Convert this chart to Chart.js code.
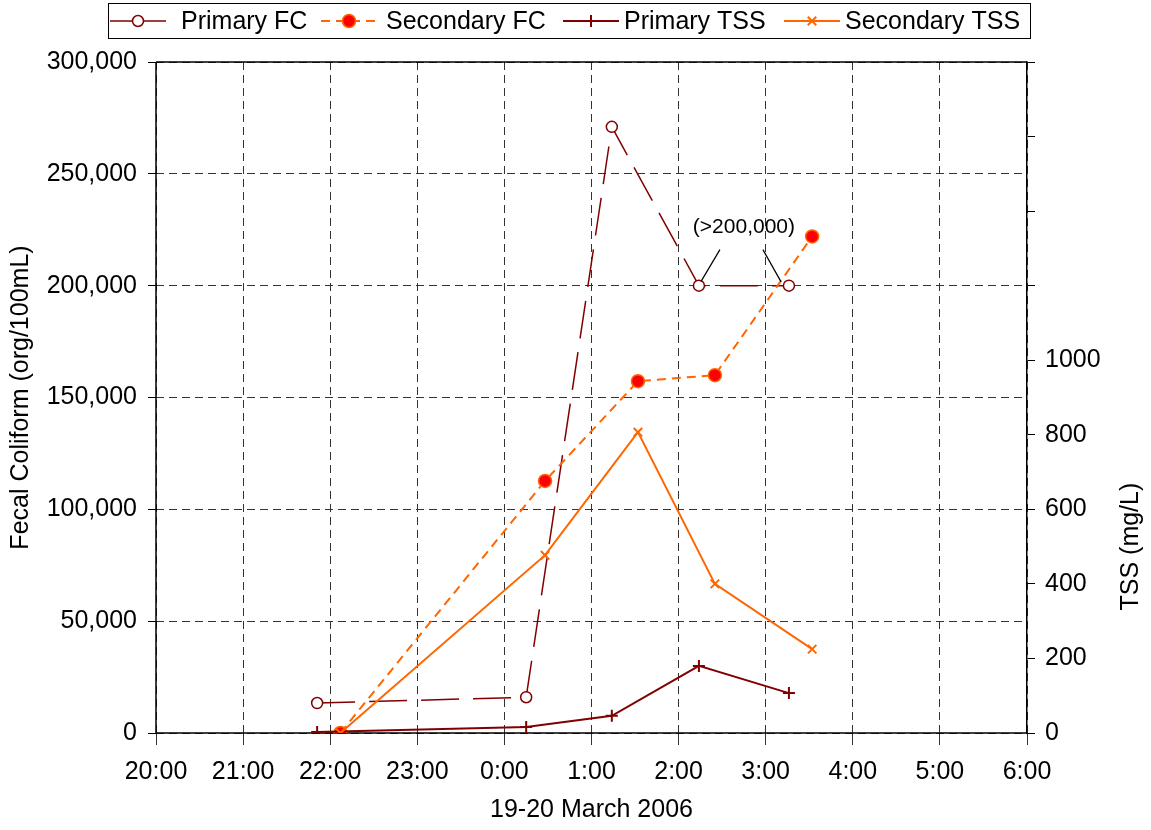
<!DOCTYPE html>
<html>
<head>
<meta charset="utf-8">
<script src="https://cdn.jsdelivr.net/npm/chart.js@4.4.0/dist/chart.umd.min.js"></script>
<style>
  body { margin: 0; background: #fff; }
  #wrap { width: 1151px; height: 830px; }
</style>
</head>
<body>
<div id="wrap"><canvas id="chart1"></canvas></div>
<script>
// sample times (clock) and values
const primaryTimes = ["21:51", "0:15", "1:14", "2:14", "3:16"];
const secondaryTimes = ["22:07", "0:28", "1:32", "2:25", "3:32"];
const primaryFC = [13400, 16000, 271000, 200000, 200000];
const secondaryFC = [0, 112700, 157300, 160000, 222000];
const primaryTSS = [3, 16, 46, 180, 107];
const secondaryTSS = [0, 477, 807, 400, 225];

const xMinHour = 20;
const xMaxHour = 30;

const FONT = "'Liberation Sans', Arial, sans-serif";

// clock string -> hours on a 20:00..30:00 axis
function toHours(t) {
  let parts = t.split(":");
  let h = parseInt(parts[0]) + parseInt(parts[1]) / 60;
  if (h < 12) h = h + 24;
  return h;
}

function points(times, values) {
  let out = [];
  times.forEach((t, i) => {
    out.push({ x: toHours(t), y: values[i] });
  });
  return out;
}

const darkRed = "#800000";
const orange = "#FF6600";

const datasets = [
  {
    label: "Primary FC",
    data: points(primaryTimes, primaryFC),
    yAxisID: "y",
    borderColor: darkRed,
    borderWidth: 1.5,
    borderDash: [38, 14],
    pointStyle: "circle",
    pointRadius: 5.5,
    pointBorderWidth: 1.5,
    pointBorderColor: darkRed,
    pointBackgroundColor: "#fff",
    order: 4,
  },
  {
    label: "Secondary FC",
    data: points(secondaryTimes, secondaryFC),
    yAxisID: "y",
    borderColor: orange,
    borderWidth: 2,
    borderDash: [9, 6],
    pointStyle: "circle",
    pointRadius: 6.5,
    pointBorderWidth: 1.5,
    pointBorderColor: orange,
    pointBackgroundColor: "#FF0000",
    order: 3,
  },
  {
    label: "Primary TSS",
    data: points(primaryTimes, primaryTSS),
    yAxisID: "y2",
    borderColor: darkRed,
    borderWidth: 2,
    pointStyle: "cross",
    pointRadius: 6,
    pointBorderWidth: 2,
    pointBorderColor: darkRed,
    order: 2,
  },
  {
    label: "Secondary TSS",
    data: points(secondaryTimes, secondaryTSS),
    yAxisID: "y2",
    borderColor: orange,
    borderWidth: 2,
    pointStyle: "crossRot",
    pointRadius: 6,
    pointBorderWidth: 2,
    pointBorderColor: orange,
    order: 1,
  },
];

// legend drawn by hand: line sample + marker, inside a black box
const legendPlugin = {
  id: "boxLegend",
  afterDraw(chart) {
    const ctx = chart.ctx;
    const sampleX = [138, 349, 591, 812];
    const textX = [181, 386, 624, 845];
    const cy = 21;
    ctx.save();
    ctx.strokeStyle = "#000";
    ctx.lineWidth = 1;
    ctx.strokeRect(108.5, 3.5, 922, 35);
    ctx.font = "25px " + FONT;
    ctx.textBaseline = "middle";
    ctx.fillStyle = "#000";
    chart.data.datasets.forEach((ds, i) => {
      ctx.save();
      ctx.strokeStyle = ds.borderColor;
      ctx.lineWidth = ds.borderWidth;
      ctx.setLineDash(i === 0 ? [] : (ds.borderDash || []));
      ctx.beginPath();
      ctx.moveTo(sampleX[i] - 28, cy);
      ctx.lineTo(sampleX[i] + 28, cy);
      ctx.stroke();
      ctx.setLineDash([]);
      ctx.lineWidth = ds.pointBorderWidth;
      ctx.strokeStyle = ds.pointBorderColor;
      ctx.fillStyle = ds.pointBackgroundColor || "#fff";
      Chart.helpers.drawPoint(ctx, {
        pointStyle: ds.pointStyle,
        radius: ds.pointRadius,
        rotation: 0,
        borderWidth: ds.pointBorderWidth,
      }, sampleX[i], cy);
      ctx.restore();
      ctx.fillText(ds.label, textX[i], cy + 1);
    });
    ctx.restore();
  },
};

// solid frame lines, right axis title and the ">200,000" note
const extrasPlugin = {
  id: "extras",
  beforeDatasetsDraw(chart) {
    const ctx = chart.ctx;
    const a = chart.chartArea;
    ctx.save();
    ctx.strokeStyle = "#000";
    ctx.lineWidth = 1.5;
    ctx.beginPath();
    ctx.moveTo(a.left, a.top);
    ctx.lineTo(a.right, a.top);
    ctx.moveTo(a.left, a.top);
    ctx.lineTo(a.left, a.bottom);
    ctx.lineTo(a.right, a.bottom);
    ctx.stroke();
    ctx.restore();
  },
  afterDatasetsDraw(chart) {
    const ctx = chart.ctx;
    const meta = chart.getDatasetMeta(0);
    const p1 = meta.data[3];
    const p2 = meta.data[4];
    const mid = (p1.x + p2.x) / 2;
    ctx.save();
    ctx.font = "21px " + FONT;
    ctx.fillStyle = "#000";
    ctx.textAlign = "center";
    ctx.textBaseline = "middle";
    ctx.fillText("(>200,000)", mid, p1.y - 58);
    ctx.strokeStyle = "#000";
    ctx.lineWidth = 1.2;
    ctx.beginPath();
    ctx.moveTo(mid - 24, p1.y - 36);
    ctx.lineTo(p1.x + 2, p1.y - 4);
    ctx.moveTo(mid + 19, p1.y - 36);
    ctx.lineTo(p2.x - 8, p2.y - 4);
    ctx.stroke();
    ctx.restore();
  },
  afterDraw(chart) {
    const ctx = chart.ctx;
    const y2 = chart.scales.y2;
    const cy = (y2.getPixelForValue(0) + y2.getPixelForValue(1000)) / 2;
    ctx.save();
    ctx.translate(1131, cy);
    ctx.rotate(-Math.PI / 2);
    ctx.font = "25px " + FONT;
    ctx.fillStyle = "#000";
    ctx.textAlign = "center";
    ctx.textBaseline = "middle";
    ctx.fillText("TSS (mg/L)", 0, 0);
    ctx.restore();
  },
};

const gridDash = [8, 5];

const config1 = {
  type: "line",
  data: { datasets: datasets },
  options: {
    responsive: true,
    maintainAspectRatio: false,
    animation: false,
    layout: { padding: { top: 62, left: 0, right: 0, bottom: 0 } },
    plugins: {
      legend: { display: false },
      tooltip: { enabled: false },
    },
    scales: {
      x: {
        type: "linear",
        min: xMinHour,
        max: xMaxHour,
        afterFit: (scale) => { scale.height = 97; },
        ticks: {
          stepSize: 1,
          color: "#000",
          padding: 12,
          maxRotation: 0,
          font: { size: 25, family: FONT },
          callback: (v) => (v % 24) + ":00",
        },
        grid: { color: "#333", lineWidth: 1, tickLength: 12, tickColor: "#333" },
        border: { display: false, dash: gridDash },
        title: {
          display: true,
          text: "19-20 March 2006",
          color: "#000",
          font: { size: 25, family: FONT },
          padding: { top: 0, bottom: 5 },
        },
      },
      y: {
        position: "left",
        min: 0,
        max: 300000,
        afterFit: (scale) => { scale.width = 156; },
        ticks: {
          stepSize: 50000,
          color: "#000",
          padding: 11,
          font: { size: 25, family: FONT },
          callback: (v) => v.toLocaleString("en-US"),
        },
        grid: { color: "#333", lineWidth: 1, tickLength: 8, tickColor: "#000" },
        border: { display: false, dash: gridDash },
        title: {
          display: true,
          text: "Fecal Coliform (org/100mL)",
          color: "#000",
          font: { size: 25, family: FONT },
          padding: { top: 6, bottom: 0 },
        },
      },
      y2: {
        position: "right",
        min: 0,
        max: 1800,
        afterFit: (scale) => { scale.width = 124; },
        ticks: {
          stepSize: 200,
          color: "#000",
          padding: 10,
          font: { size: 25, family: FONT },
          callback: (v) => (v <= 1000 ? v : ""),
        },
        grid: { drawOnChartArea: false, tickLength: 8, tickColor: "#000" },
        border: { display: true, color: "#000", width: 1.5 },
      },
    },
  },
  plugins: [legendPlugin, extrasPlugin],
};

const lineChart = new Chart(document.getElementById("chart1"), config1);
</script>
</body>
</html>
